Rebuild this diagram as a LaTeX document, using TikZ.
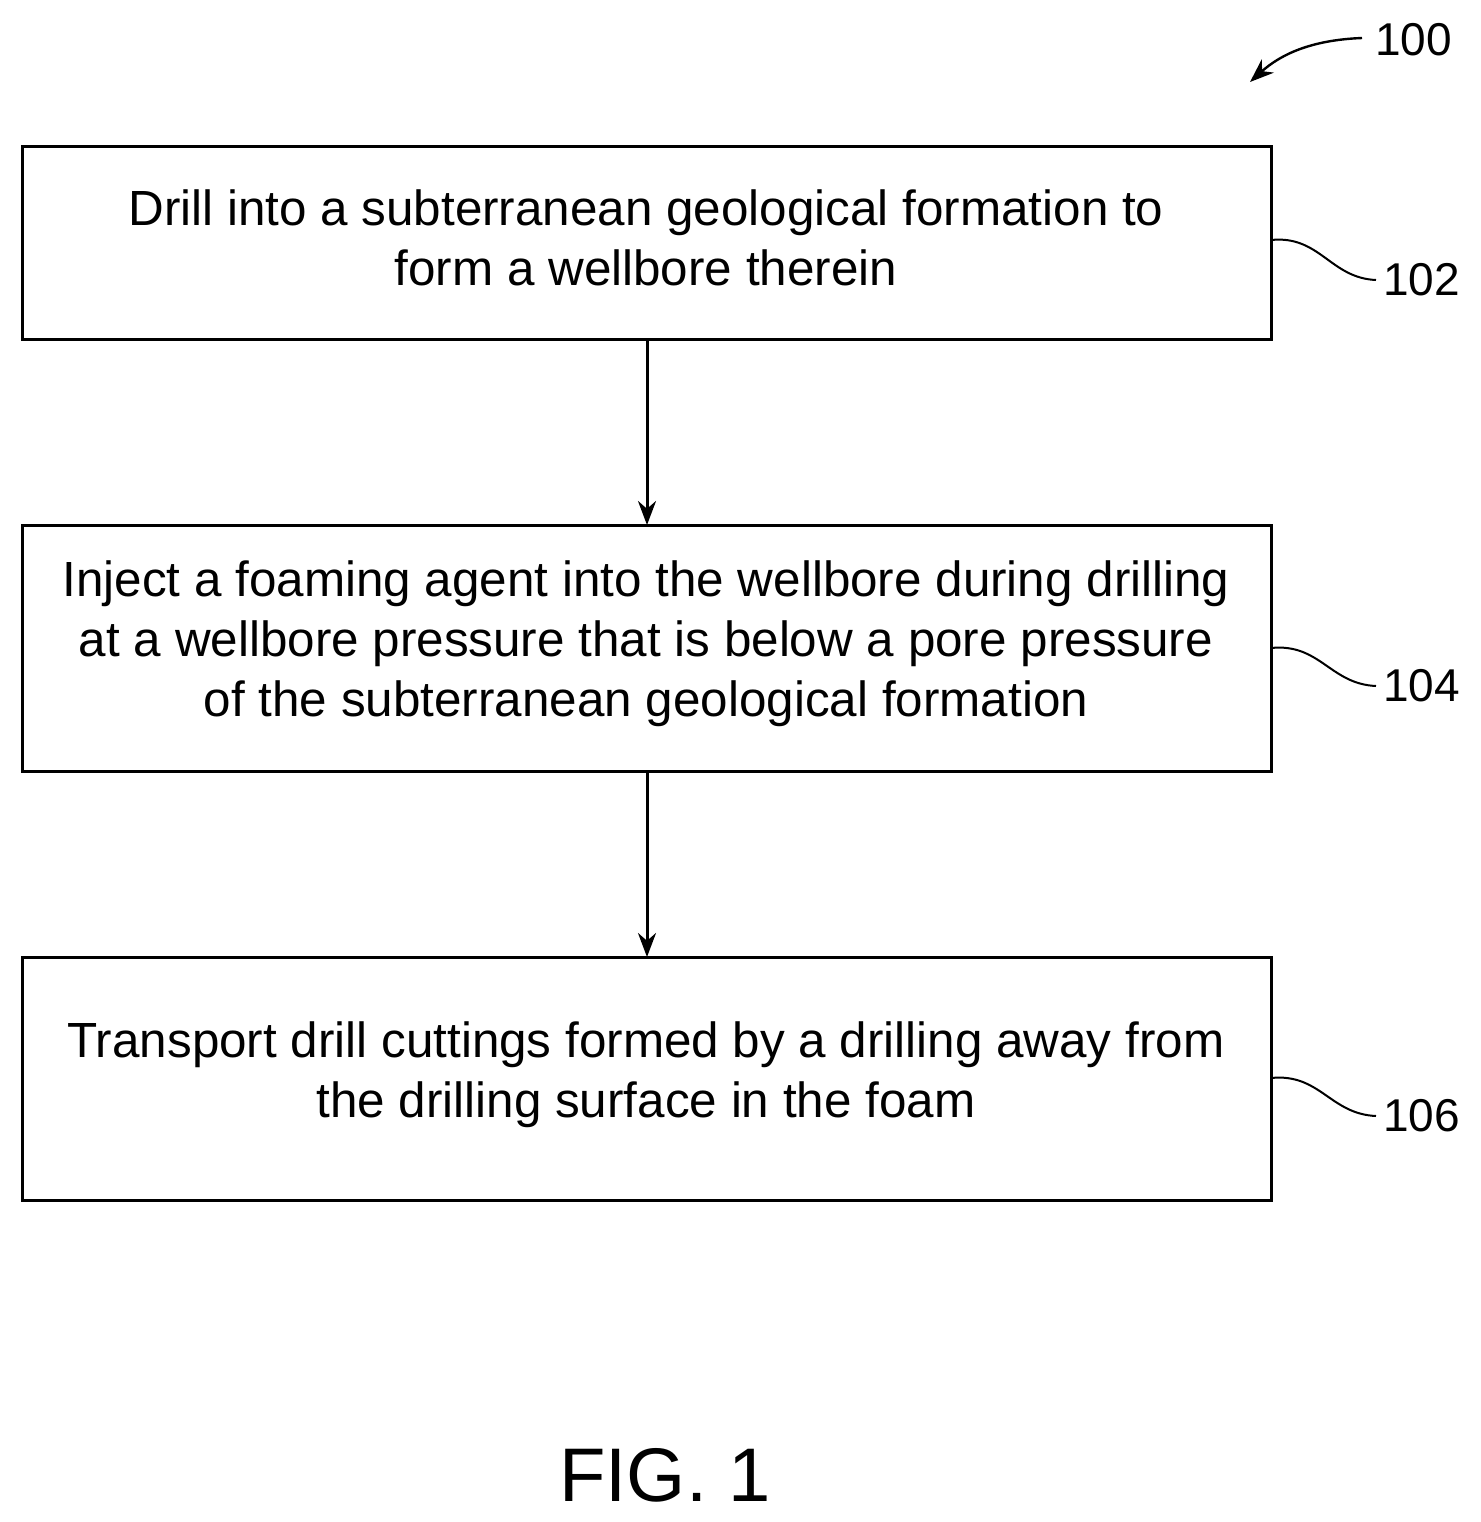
\documentclass[tikz,border=0pt]{standalone}
\usepackage{fontspec}
\setmainfont{Liberation Sans}
\usetikzlibrary{arrows.meta}
\begin{document}
\begin{tikzpicture}[x=0.5pt,y=-0.5pt,
  box/.style={draw,line width=1.5pt,inner sep=0pt},
  txt/.style={align=center,font=\fontsize{24.7}{30}\selectfont},
  lbl/.style={font=\fontsize{23}{28}\selectfont},
  arr/.style={line width=1.5pt,-{Stealth[length=12pt,width=9pt]}},
  sq/.style={line width=1pt}]
\useasboundingbox (0,0) rectangle (1481,1522);
\draw[box] (22,146) rectangle (1271,339);
\draw[box] (22,525) rectangle (1271,771);
\draw[box] (22,957) rectangle (1271,1200);
\coordinate (b1) at (647,339); \coordinate (t2) at (647,525);
\coordinate (b2) at (647,771); \coordinate (t3) at (647,957);
\node[txt] (n1) at (646,238) {Drill into a subterranean geological formation to\\form a wellbore therein};
\node[txt] (n2) at (646,644) {Inject a foaming agent into the wellbore during drilling\\at a wellbore pressure that is below a pore pressure\\of the subterranean geological formation};
\node[txt] (n3) at (646,1075) {Transport drill cuttings formed by a drilling away from\\the drilling surface in the foam};
\draw[arr] (b1) -- (t2);
\draw[arr] (b2) -- (t3);
\node[lbl,anchor=west] (l102) at (1376,280) {102};
\node[lbl,anchor=west] (l104) at (1376,686) {104};
\node[lbl,anchor=west] (l106) at (1376,1116) {106};
\node[lbl,anchor=west] (l100) at (1368,40) {100};
\coordinate (r1) at (1271,240); \coordinate (r2) at (1271,648); \coordinate (r3) at (1271,1078);
\draw[sq] (r1) .. controls (1320,235) and (1330,278) .. (l102.west);
\draw[sq] (r2) .. controls (1320,643) and (1330,684) .. (l104.west);
\draw[sq] (r3) .. controls (1320,1073) and (1330,1114) .. (l106.west);
\coordinate (a0) at (1362,38); \coordinate (a1) at (1250,82);
\draw[line width=1.2pt,-{Stealth[length=12pt,width=9pt]}] (a0) .. controls (1310,40) and (1280,55) .. (a1);
\node[font=\fontsize{38}{44}\selectfont] (fig) at (665,1475) {FIG. 1};
\end{tikzpicture}
\end{document}
